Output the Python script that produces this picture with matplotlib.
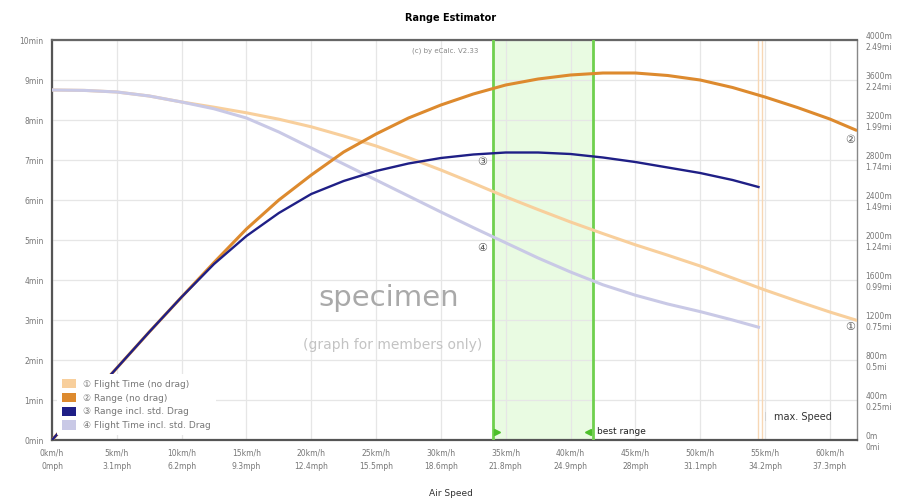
import matplotlib
matplotlib.use("Agg")
import matplotlib.pyplot as plt
from matplotlib.patches import Patch

# ---- data ----
speed_kmh = [0, 2.5, 5, 7.5, 10, 12.5, 15, 17.5, 20, 22.5, 25, 27.5, 30, 32.5, 35, 37.5,
             40, 42.5, 45, 47.5, 50, 52.5, 55, 57.5, 60, 62]
flight_time_nodrag = [8.75, 8.74, 8.7, 8.6, 8.45, 8.32, 8.18, 8.02, 7.83, 7.6, 7.35, 7.06,
                      6.75, 6.42, 6.08, 5.76, 5.45, 5.16, 4.88, 4.62, 4.35, 4.05, 3.75,
                      3.47, 3.2, 3.0]
range_nodrag = [0, 360, 720, 1080, 1430, 1775, 2110, 2400, 2650, 2880, 3060, 3220, 3350,
                3460, 3550, 3610, 3650, 3670, 3670, 3645, 3600, 3525, 3430, 3325, 3210, 3100]

speed_drag = [0, 2.5, 5, 7.5, 10, 12.5, 15, 17.5, 20, 22.5, 25, 27.5, 30, 32.5, 35, 37.5,
              40, 42.5, 45, 47.5, 50, 52.5, 54.5]
flight_time_drag = [8.75, 8.74, 8.7, 8.6, 8.45, 8.28, 8.05, 7.7, 7.3, 6.9, 6.5, 6.1, 5.7,
                    5.31, 4.93, 4.55, 4.2, 3.88, 3.62, 3.4, 3.21, 3.0, 2.82]
range_drag = [0, 360, 720, 1080, 1430, 1760, 2040, 2270, 2460, 2590, 2690, 2765, 2820,
              2855, 2875, 2875, 2860, 2825, 2780, 2725, 2670, 2600, 2530]

x_ticks = [0, 5, 10, 15, 20, 25, 30, 35, 40, 45, 50, 55, 60]
x_labels = ["0km/h\n0mph", "5km/h\n3.1mph", "10km/h\n6.2mph", "15km/h\n9.3mph",
            "20km/h\n12.4mph", "25km/h\n15.5mph", "30km/h\n18.6mph", "35km/h\n21.8mph",
            "40km/h\n24.9mph", "45km/h\n28mph", "50km/h\n31.1mph", "55km/h\n34.2mph",
            "60km/h\n37.3mph"]
y_ticks = list(range(0, 11))
y_labels = [f"{i}min" for i in y_ticks]
r_ticks = [0, 400, 800, 1200, 1600, 2000, 2400, 2800, 3200, 3600, 4000]
r_labels = ["0m\n0mi", "400m\n0.25mi", "800m\n0.5mi", "1200m\n0.75mi", "1600m\n0.99mi",
            "2000m\n1.24mi", "2400m\n1.49mi", "2800m\n1.74mi", "3200m\n1.99mi",
            "3600m\n2.24mi", "4000m\n2.49mi"]

best_range = (34.0, 41.7)
max_speed = 54.5
legend_labels = ["① Flight Time (no drag)", "② Range (no drag)", "③ Range incl. std. Drag",
                 "④ Flight Time incl. std. Drag"]

# ---- styling ----
FAM = ["DejaVu Sans", "Noto Sans CJK SC"]
plt.rcParams["font.family"] = FAM
c_ft = "#f8cf9c"
c_rng = "#dd8a2e"
c_rd = "#1f1f86"
c_ftd = "#c9c9e6"
tick_col = "#777777"

fig = plt.figure(figsize=(9.01, 5.04), dpi=100)
ax = fig.add_axes([52/901, 1-440/504, (857-52)/901, (440-40)/504])
ax2 = ax.twinx()

ax.set_xlim(0, 62.1)
ax.set_ylim(0, 10)
ax2.set_ylim(0, 4000)

ax.set_xticks(x_ticks)
ax.set_xticklabels(x_labels, fontsize=5.5, color=tick_col, linespacing=1.6)
ax.set_yticks(y_ticks)
ax.set_yticklabels(y_labels, fontsize=5.5, color=tick_col)
ax2.set_yticks(r_ticks)
ax2.set_yticklabels(r_labels, fontsize=5.5, color=tick_col, linespacing=1.3)
ax.tick_params(length=0, pad=6)
ax2.tick_params(length=0, pad=6)
ax.grid(True, color="#e6e6e6", lw=0.9)
ax.set_axisbelow(True)

for s in ["left", "bottom"]:
    ax.spines[s].set_color("#555555"); ax.spines[s].set_linewidth(1.6)
ax.spines["top"].set_color("#666666"); ax.spines["top"].set_linewidth(1.6)
ax.spines["right"].set_color("#888888"); ax.spines["right"].set_linewidth(1.0)
for s in ax2.spines.values():
    s.set_visible(False)

# best range band
ax.axvspan(best_range[0], best_range[1], color="#e9fbe2", zorder=0.5)
for xv in best_range:
    ax.axvline(xv, color="#6fd04e", lw=2, zorder=3)
ax.plot([best_range[0] + 0.35], [0.2], marker=">", color="#4cbf2a", ms=4, zorder=4)
ax.plot([best_range[1] - 0.35], [0.2], marker="<", color="#4cbf2a", ms=4, zorder=4)
ax.text(best_range[1] + 0.35, 0.2, "best range", fontsize=6.5, color="#222222", va="center")

# max speed
ax.axvline(max_speed, color="#f7d7b5", lw=1.0, zorder=2)
ax.axvline(max_speed + 0.25, color="#f7d7b5", lw=1.0, zorder=2)
ax.text(max_speed + 0.45, 0.58, "|", fontsize=6, color="#cccccc", va="center")
ax.text(max_speed + 1.2, 0.58, "max. Speed", fontsize=7, color="#333333", va="center")

# curves
ax.plot(speed_kmh, flight_time_nodrag, color=c_ft, lw=2.2, zorder=5)
ax.plot(speed_drag, flight_time_drag, color=c_ftd, lw=2.2, zorder=5)
ax2.plot(speed_kmh, range_nodrag, color=c_rng, lw=2.2, zorder=5)
ax2.plot(speed_drag, range_drag, color=c_rd, lw=1.7, zorder=5)

# circled numbers next to the curves
for x, y, n in [(33.2, 6.95, "③"), (33.2, 4.8, "④"), (61.6, 7.5, "②"), (61.6, 2.82, "①")]:
    ax.text(x, y, n, fontsize=8, color="#555555", ha="center", va="center", zorder=7,
            family=FAM)

# texts
fig.text(451/901, 1-18/504, "Range Estimator", fontsize=7, fontweight="bold",
         ha="center", va="center")
ax.text(30.3, 9.72, "(c) by eCalc. V2.33", fontsize=5, color="#888888", ha="center", va="center")
ax.text(26, 3.55, "specimen", fontsize=21, color="#a9a9a9", ha="center", va="center")
ax.text(26.3, 2.38, "(graph for members only)", fontsize=10, color="#c3c3c3",
        ha="center", va="center")
fig.text(451/901, 1-493/504, "Air Speed", fontsize=6.5, ha="center", va="center",
         color="#333333")

# legend
handles = [Patch(fc=c, ec="none") for c in [c_ft, c_rng, c_rd, c_ftd]]
leg = ax2.legend(handles, legend_labels, loc="lower left", bbox_to_anchor=(0.0, 0.0),
                 fontsize=6.5, frameon=True, handlelength=1.6, handleheight=1.2,
                 labelspacing=0.45, borderpad=0.6, handletextpad=0.7)
leg.get_frame().set_facecolor("white")
leg.get_frame().set_edgecolor("none")
leg.get_frame().set_alpha(1.0)
for t in leg.get_texts():
    t.set_color("#777777")
leg.set_zorder(10)

fig.savefig("out.png", dpi=100)
